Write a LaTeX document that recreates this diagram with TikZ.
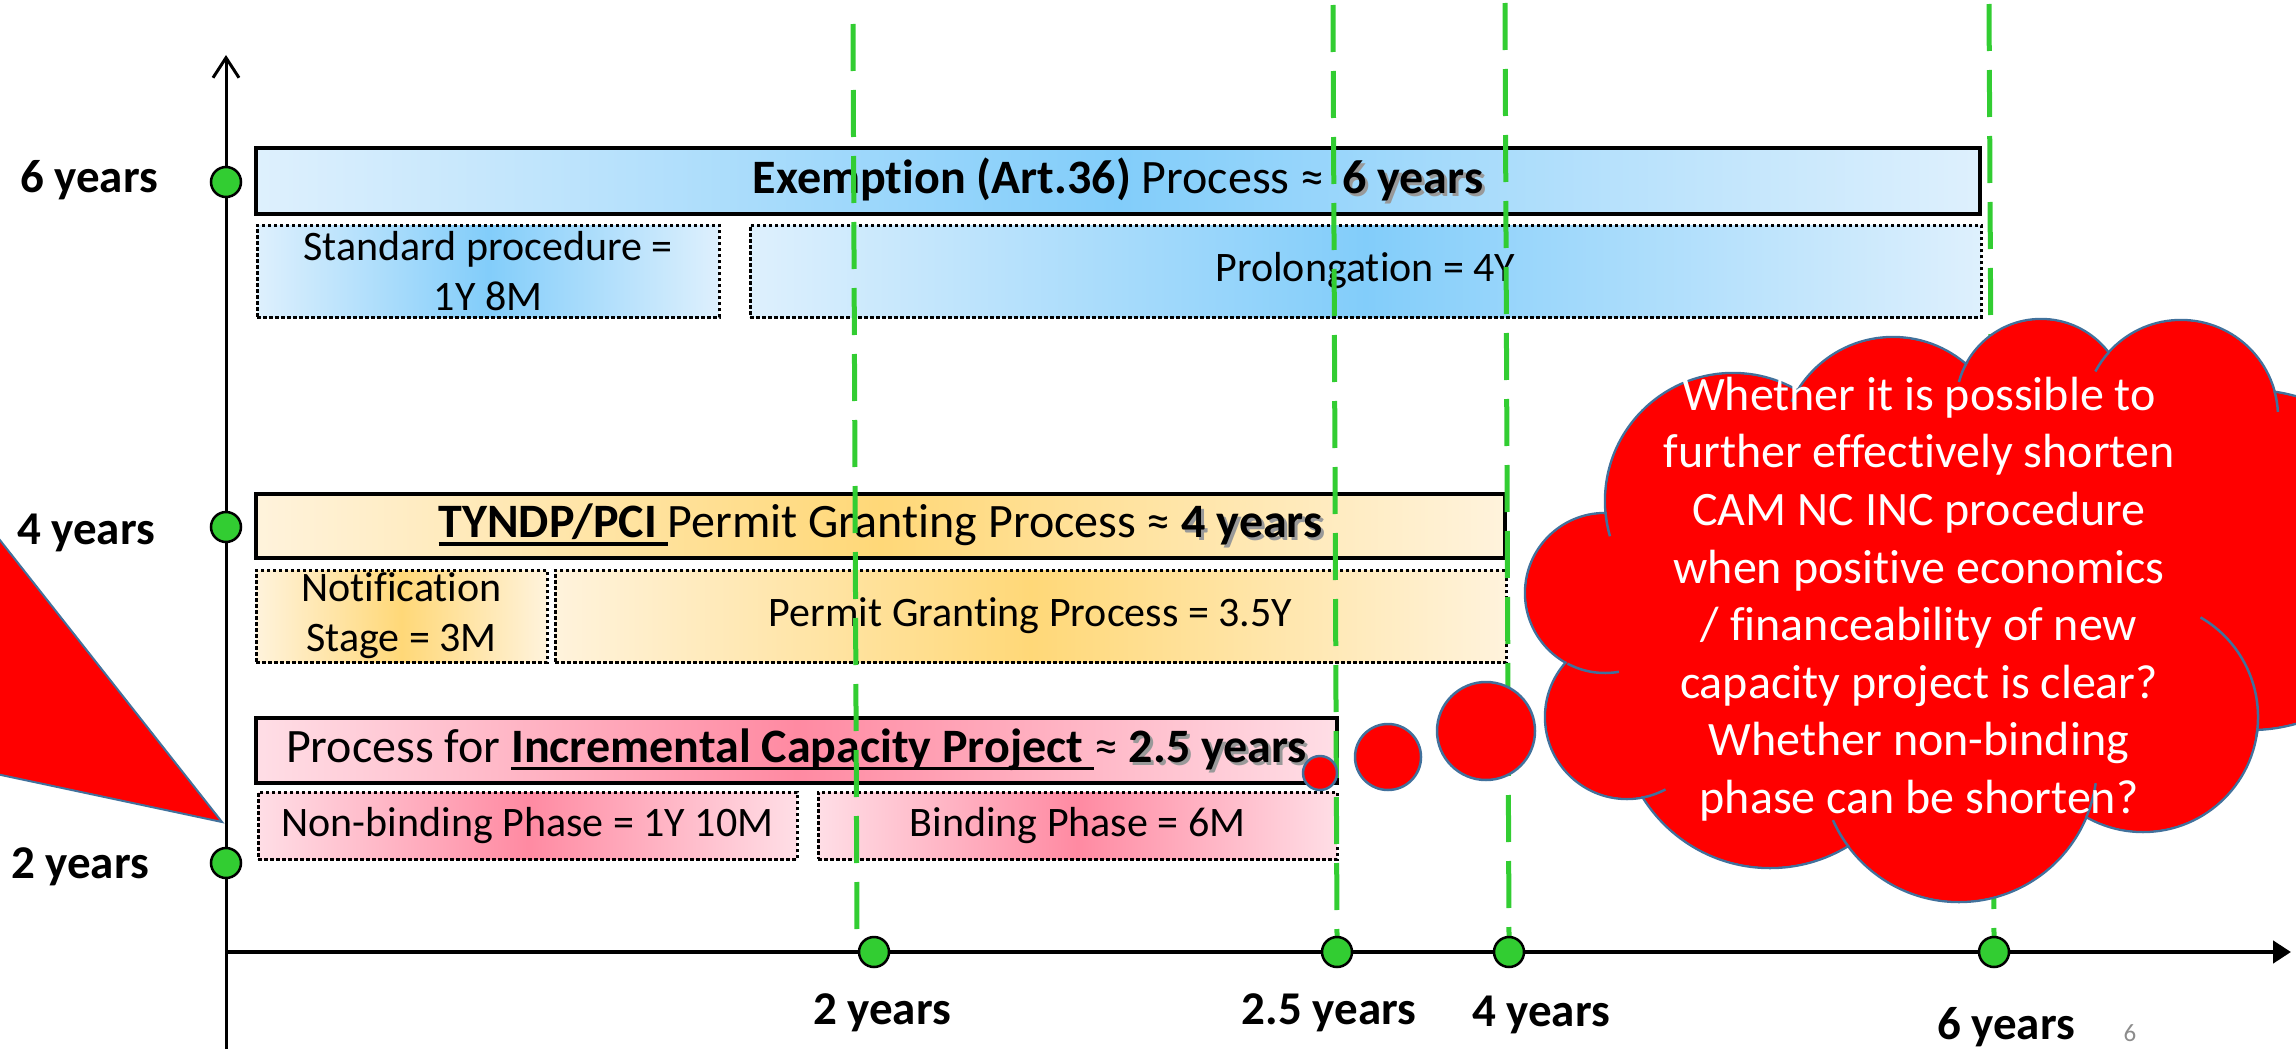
\documentclass[tikz,border=0pt]{standalone}
\usepackage{fontspec}
\setmainfont{Carlito}[Ligatures={TeX,NoCommon}]
\usetikzlibrary{arrows.meta}
\definecolor{lgreen}{RGB}{50,205,50}
\definecolor{cloudline}{RGB}{65,113,156}
\definecolor{blueE}{RGB}{222,240,253}
\definecolor{blueC}{RGB}{130,205,250}
\definecolor{orE}{RGB}{255,243,220}
\definecolor{orC}{RGB}{255,216,120}
\definecolor{pkE}{RGB}{255,222,230}
\definecolor{pkC}{RGB}{255,138,162}
\definecolor{pagegray}{RGB}{140,140,140}
\pgfdeclarelayer{fg}
\pgfsetlayers{main,fg}
\newcommand\myul[1]{\setbox0\hbox{#1}\rlap{\rule[-8pt]{\wd0}{3.5pt}}\box0}
\newcommand\shd[1]{\rlap{\kern3pt\raisebox{-3pt}{\color{black!40}#1}}#1}
\begin{document}
\begin{tikzpicture}[x=1pt,y=-1pt,
  title/.style={draw=black, line width=4.5pt, inner sep=0pt, font=\fontsize{48}{57}\selectfont},
  sub/.style={draw=black, line width=3pt, dash pattern=on 3.5pt off 2.5pt, inner sep=0pt, align=center, font=\fontsize{42}{50}\selectfont},
  bluefill/.style={left color=blueE, right color=blueE, middle color=blueC},
  orfill/.style={left color=orE, right color=orE, middle color=orC},
  pkfill/.style={left color=pkE, right color=pkE, middle color=pkC},
  gdot/.style={circle, fill=lgreen, draw=black, line width=2.5pt, minimum size=30pt, inner sep=0pt},
  lab/.style={font=\fontsize{47}{56}\selectfont\bfseries},
  guide/.style={draw=lgreen, line width=5pt, dash pattern=on 47pt off 19pt},
  cloudpart/.style={fill=red, draw=cloudline, line width=2.5pt},
  spur/.style={draw=cloudline, line width=2.5pt}
]
\useasboundingbox (0,0) rectangle (2296,1049);

% ---------- boxes ----------
\node[title, bluefill, minimum width=1724pt, minimum height=66pt] (ex) at (1118,181)
  {{\bfseries Exemption (Art.36)} Process ≈\hspace{18pt}\shd{\bfseries 6 years}};
\node[sub, bluefill, minimum width=462pt, minimum height=92pt] (std) at (488,271)
  {Standard procedure =\\1Y 8M};
\node[sub, bluefill, minimum width=1231pt, minimum height=92pt] (pro) at (1365.5,271)
  {Prolongation = 4Y};

\node[title, orfill, minimum width=1249pt, minimum height=64pt] (ty) at (880.5,526)
  {\myul{\bfseries TYNDP/PCI\ }Permit Granting Process ≈ \shd{\bfseries 4 years}};
\node[sub, orfill, minimum width=291pt, minimum height=92pt] (not) at (401.5,616)
  {Notification\\Stage = 3M};
\node[sub, orfill, minimum width=951pt, minimum height=92pt] (per) at (1030.5,616)
  {Permit Granting Process = 3.5Y};

\node[title, pkfill, minimum width=1081pt, minimum height=65pt] (inc) at (796.5,750.5)
  {Process for \myul{\bfseries Incremental Capacity Project\ }≈ \shd{\bfseries 2.5 years}};
\node[sub, pkfill, minimum width=539pt, minimum height=67pt] (nb) at (527.5,825.5)
  {Non-binding Phase = 1Y 10M};
\node[sub, pkfill, minimum width=519pt, minimum height=67pt] (bp) at (1077.5,825.5)
  {Binding Phase = 6M};

% ---------- axes ----------
\coordinate (ybot) at (226,1049);
\coordinate (ytop) at (226,55);
\coordinate (xl) at (226,952);
\coordinate (xr) at (2291,952);
\draw[line width=3pt, -{Straight Barb[length=20pt,width=26pt,line width=3pt]}] (ybot) -- (ytop);
\draw[line width=4.5pt, -{Triangle[length=18pt,width=22pt]}] (xl) -- (xr);

% ---------- labels ----------
\node[lab] (l6) at (89,180) {6 years};
\node[lab] (l4) at (86,533) {4 years};
\node[lab] (l2) at (80,867) {2 years};
\node[lab] (b2) at (882,1013) {2 years};
\node[lab] (b25) at (1329,1013) {2.5 years};
\node[lab] (b4) at (1541,1015) {4 years};
\node[lab] (b6) at (2006,1027) {6 years};
\node[text=pagegray, font=\fontsize{25}{30}\selectfont] (pg) at (2130,1033) {6};

% ---------- guide lines ----------
\coordinate (g2t) at (853,24);   \coordinate (g2b) at (857,937);
\coordinate (g25t) at (1333,5);  \coordinate (g25b) at (1337,937);
\coordinate (g4t) at (1505,3);   \coordinate (g4b) at (1509,937);
\coordinate (g6t) at (1989,4);   \coordinate (g6b) at (1994,937);
\draw[guide] (g2t) -- (g2b);
\draw[guide] (g25t) -- (g25b);
\draw[guide] (g4t) -- (g4b);
\draw[guide] (g6t) -- (g6b);

\begin{pgfonlayer}{fg}
% dots
\node[gdot] (y6) at (226,182) {};
\node[gdot] (y4) at (226,527) {};
\node[gdot] (y2) at (226,863) {};
\node[gdot] (x2) at (874,952) {};
\node[gdot] (x25) at (1337,952) {};
\node[gdot] (x4) at (1509,952) {};
\node[gdot] (x6) at (1994,952) {};

\begin{scope}
\clip (0,0) rectangle (2296,1049);
% triangle
\filldraw[cloudpart, line width=2pt] (-60,464) -- (222,822) -- (-60,762) -- cycle;
% thought bubbles
\filldraw[cloudpart] (1320,773) circle[radius=17];
\filldraw[cloudpart] (1388,757) circle[radius=33];
\filldraw[cloudpart] (1486,731) circle[radius=49];
% cloud
\foreach \cx/\cy/\r in {1605/593/80, 1733/501/128, 1893/449/112, 2041/404/85, 2181/417/97,
                        2250/560/170, 2143/717/115, 1959/764/138, 1770/718/150, 1627/717/82}
  \filldraw[cloudpart] (\cx,\cy) circle[radius=\r];
\foreach \cx/\cy/\r in {1605/593/80, 1733/501/128, 1893/449/112, 2041/404/85, 2181/417/97,
                        2250/560/170, 2143/717/115, 1959/764/138, 1770/718/150, 1627/717/82}
  \fill[red] (\cx,\cy) circle[radius=\r-1.3];
\fill[red] (1605,593) -- (1733,501) -- (1893,449) -- (2041,404) -- (2181,417) -- (2250,560)
  -- (2143,717) -- (1959,764) -- (1770,718) -- (1627,717) -- cycle;
% inner arcs of the cloud outline
\foreach \cx/\cy/\r/\a/\b in {1733/501/128/175/164, 1893/449/112/212/205, 2041/404/85/210/195,
                              2181/417/97/222/208, 2181/417/97/-15/-3, 2143/717/115/10/-60,
                              1959/764/138/23/8, 1959/764/138/143/156, 1627/717/82/80/62,
                              1605/593/80/118/80}
  \draw[spur] (\cx,\cy) ++(\a:\r) arc[start angle=\a, end angle=\b, radius=\r];
\end{scope}
\node[text=white, align=center, font=\fontsize{48}{57.6}\selectfont] (q) at (1919,599)
  {Whether it is possible to\\further effectively shorten\\CAM NC INC procedure\\when positive economics\\/ financeability of new\\capacity project is clear?\\Whether non-binding\\phase can be shorten?};
\end{pgfonlayer}
\end{tikzpicture}
\end{document}
